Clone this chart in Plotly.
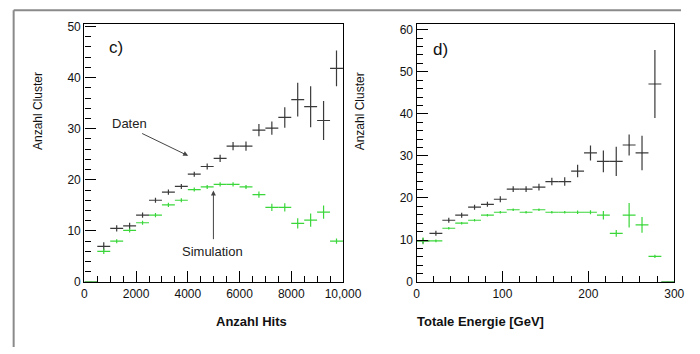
import plotly.graph_objects as go

# ---------------- data ----------------
# panel c) : Anzahl Cluster vs Anzahl Hits (bins of 500)
hits_bins = [250, 750, 1250, 1750, 2250, 2750, 3250, 3750, 4250, 4750, 5250,
             5750, 6250, 6750, 7250, 7750, 8250, 8750, 9250, 9750]
hits_daten = [0, 7.0, 10.5, 11.0, 13.1, 16.0, 17.6, 18.7, 21.1, 22.6, 24.2,
              26.6, 26.6, 29.7, 30.1, 32.2, 35.7, 34.3, 31.6, 41.8]
hits_daten_err = [0, 0.8, 0.6, 0.6, 0.5, 0.5, 0.5, 0.5, 0.5, 0.6, 0.7,
                  0.8, 0.9, 1.2, 1.3, 2.0, 3.3, 4.0, 3.8, 3.5]
hits_sim = [0, 6.0, 8.0, 10.1, 11.6, 13.1, 15.1, 16.0, 18.1, 18.6, 19.1,
            19.1, 18.6, 17.1, 14.6, 14.6, 11.5, 12.1, 13.7, 8.0]
hits_sim_err = [0, 0.5, 0.4, 0.4, 0.4, 0.4, 0.4, 0.4, 0.4, 0.4, 0.4,
                0.4, 0.4, 0.6, 0.7, 0.8, 1.0, 1.3, 1.3, 0.5]
hits_halfwidth = 250

# panel d) : Anzahl Cluster vs Totale Energie (bins of 15 GeV)
e_bins = [7.5, 22.5, 37.5, 52.5, 67.5, 82.5, 97.5, 112.5, 127.5, 142.5,
          157.5, 172.5, 187.5, 202.5, 217.5, 232.5, 247.5, 262.5, 277.5, 292.5]
e_daten = [9.8, 11.6, 14.7, 15.9, 17.8, 18.5, 19.7, 22.1, 22.1, 22.6,
           23.9, 23.9, 26.4, 30.7, 28.7, 28.7, 32.6, 30.7, 47.1, 0]
e_daten_err = [0.6, 0.6, 0.6, 0.6, 0.6, 0.6, 0.7, 0.7, 0.7, 0.8,
               0.9, 1.0, 1.5, 1.8, 2.6, 3.5, 2.5, 4.1, 8.1, 0]
e_sim = [9.8, 9.8, 12.8, 14.0, 14.7, 15.9, 16.6, 17.2, 16.6, 17.2,
         16.6, 16.6, 16.6, 16.6, 15.9, 11.6, 15.9, 13.6, 6.1, 0]
e_sim_err = [0.8, 0.3, 0.3, 0.3, 0.3, 0.3, 0.3, 0.3, 0.3, 0.3,
             0.3, 0.3, 0.4, 0.5, 1.0, 0.8, 2.9, 1.9, 0.4, 0]
e_halfwidth = 7.5

x_title_c = "Anzahl Hits"
x_title_d = "Totale Energie [GeV]"
y_title = "Anzahl Cluster"

# ---------------- styling ----------------
W, H = 700, 354
BLACK = "#3a3a3a"
GREEN = "#3ad63a"
FONT = "Liberation Sans"


def px(x):
    return x / W


def py(y):
    return 1 - y / H


fig = go.Figure()


def add_series(x, y, yerr, hw, color, xa, ya):
    fig.add_trace(go.Scatter(
        x=x, y=y, mode="markers",
        marker=dict(size=1, color=color),
        error_x=dict(type="constant", value=hw, width=0, thickness=1.2, color=color),
        error_y=dict(type="data", array=yerr, width=0, thickness=1.2, color=color),
        xaxis=xa, yaxis=ya, showlegend=False, cliponaxis=False,
        hoverinfo="skip"))


add_series(hits_bins, hits_daten, hits_daten_err, hits_halfwidth, BLACK, "x", "y")
add_series(hits_bins, hits_sim, hits_sim_err, hits_halfwidth, GREEN, "x", "y")
add_series(e_bins, e_daten, e_daten_err, e_halfwidth, BLACK, "x2", "y2")
add_series(e_bins, e_sim, e_sim_err, e_halfwidth, GREEN, "x2", "y2")

ydom = [py(287), py(20.5)]
common = dict(showline=True, linecolor="black", linewidth=1.3, mirror=True,
              ticks="inside", ticklen=11, tickwidth=1.2, tickcolor="black",
              showgrid=False, zeroline=False)


def minor(step):
    return dict(dtick=step, ticks="inside", ticklen=6, showgrid=False)


fig.update_layout(
    width=W, height=H, margin=dict(l=0, r=0, t=0, b=0),
    paper_bgcolor="white", plot_bgcolor="white",
    font=dict(family=FONT, size=12, color="#111"),
    xaxis=dict(domain=[px(84), px(351)], range=[0, 10000], tick0=0, dtick=2000,
               anchor="y", exponentformat="none", minor=minor(500), **common),
    yaxis=dict(domain=ydom, range=[0, 50.5], tick0=0, dtick=10, anchor="x",
               minor=minor(2), **common),
    xaxis2=dict(domain=[px(427), px(693)], range=[0, 300], tick0=0, dtick=100,
                anchor="y2", minor=minor(20), **common),
    yaxis2=dict(domain=ydom, range=[0, 61.4], tick0=0, dtick=10, anchor="x2",
                minor=minor(2), **common),
)

# outer gray frame (top and left edges visible)
fig.add_shape(type="line", xref="paper", yref="paper",
              x0=px(11), x1=1, y0=py(6.5), y1=py(6.5),
              line=dict(color="#8a8a8a", width=2), layer="below")
fig.add_shape(type="line", xref="paper", yref="paper",
              x0=px(11), x1=px(11), y0=0, y1=py(6.5),
              line=dict(color="#8a8a8a", width=2), layer="below")

ann = []
tfont = dict(family=FONT, size=13, color="#111")
ann.append(dict(text="<b>" + x_title_c + "</b>", x=px(218), y=py(337), xref="paper",
                yref="paper", showarrow=False, font=tfont))
ann.append(dict(text="<b>" + x_title_d + "</b>", x=px(561), y=py(337), xref="paper",
                yref="paper", showarrow=False, font=tfont))
ann.append(dict(text=y_title, x=px(27), y=py(68), xref="paper", yref="paper",
                showarrow=False, textangle=-90, font=dict(family=FONT, size=12, color="#111")))
ann.append(dict(text=y_title, x=px(368), y=py(68), xref="paper", yref="paper",
                showarrow=False, textangle=-90, font=dict(family=FONT, size=12, color="#111")))
ann.append(dict(text="c)", x=px(107), y=py(33), xref="paper", yref="paper",
                showarrow=False, font=dict(family=FONT, size=17, color="#111")))
ann.append(dict(text="d)", x=px(452), y=py(35), xref="paper", yref="paper",
                showarrow=False, font=dict(family=FONT, size=17, color="#111")))
ann.append(dict(text="Daten", x=1764, y=31.1, xref="x", yref="y", showarrow=False,
                font=dict(family=FONT, size=13, color="#222")))
ann.append(dict(text="", x=4015, y=24.7, ax=2176, ay=29.2, xref="x", yref="y",
                axref="x", ayref="y", showarrow=True, arrowhead=2, arrowsize=1,
                arrowwidth=1, arrowcolor="#444"))
ann.append(dict(text="Simulation", x=4953, y=6.0, xref="x", yref="y", showarrow=False,
                font=dict(family=FONT, size=13, color="#222")))
ann.append(dict(text="", x=4990, y=17.9, ax=4990, ay=8.1, xref="x", yref="y",
                axref="x", ayref="y", showarrow=True, arrowhead=2, arrowsize=1,
                arrowwidth=1, arrowcolor="#444"))
fig.update_layout(annotations=ann)

fig.write_html("out.html")
